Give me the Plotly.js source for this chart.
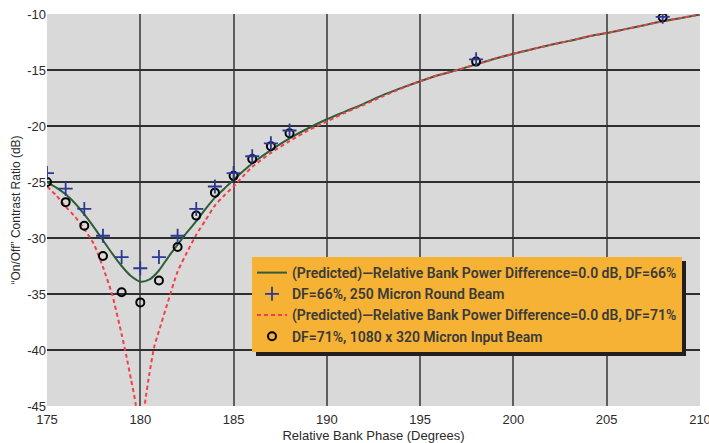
<!DOCTYPE html>
<html>
<head>
<meta charset="utf-8">
<script src="https://cdn.plot.ly/plotly-3.0.1.min.js"></script>
<style>html,body{margin:0;padding:0;background:#fff;}#chart{width:709px;height:443px;}</style>
</head>
<body>
<div id="chart"></div>
<script>
// Predicted curve, DF=66%
var predPhase66 = [175,175.5,176,176.5,177,177.5,178,178.5,179,179.5,180,180.5,181,181.5,182,182.5,183,183.5,184,184.5,185,186,187,188,189,190,191,192,193,194,195,196,197,198,199,200,201,202,203,204,205,206,207,208,209,210];
var predRatio66 = [-25.0,-25.5,-26.1,-26.9,-27.9,-29.0,-30.2,-31.4,-32.5,-33.4,-33.9,-33.7,-32.9,-31.7,-30.6,-29.5,-28.5,-27.4,-26.4,-25.6,-24.8,-23.35,-22.15,-21.1,-20.2,-19.4,-18.7,-18.0,-17.25,-16.6,-16.0,-15.45,-15.0,-14.5,-14.0,-13.55,-13.15,-12.75,-12.4,-12.0,-11.7,-11.35,-11.0,-10.65,-10.35,-10.05];

// Predicted curve, DF=71%
var predPhase71 = [175,175.5,176,176.5,177,177.5,178,178.5,179,179.25,179.5,179.75,180,180.25,180.5,180.75,181,181.5,182,182.5,183,183.5,184,184.5,185,185.5,186,187,188,189,190,191,192,193,194,195,196,197,198,199,200,201,202,203,204,205,206,207,208,209,210];
var predRatio71 = [-25.4,-26.2,-27.2,-28.1,-29.2,-30.5,-32.6,-35.1,-38.6,-40.5,-42.6,-44.8,-50.0,-44.8,-42.0,-39.7,-38.3,-35.6,-33.0,-31.3,-29.7,-28.4,-27.1,-26.2,-25.4,-24.5,-23.65,-22.4,-21.35,-20.4,-19.6,-18.8,-18.1,-17.35,-16.65,-16.0,-15.45,-15.0,-14.5,-14.0,-13.55,-13.15,-12.75,-12.4,-12.0,-11.7,-11.35,-11.0,-10.65,-10.35,-10.05];

// Measured, DF=66%, 250 micron round beam
var measPhase66 = [175,176,177,178,179,180,181,182,183,184,185,186,187,188,198,208];
var measRatio66 = [-24.2,-25.6,-27.4,-29.8,-31.7,-32.7,-31.7,-29.8,-27.4,-25.4,-24.2,-22.7,-21.55,-20.4,-14.05,-10.25];

// Measured, DF=71%, 1080 x 320 micron input beam
var measPhase71 = [175,176,177,178,179,180,181,182,183,184,185,186,187,188,198,208];
var measRatio71 = [-25.0,-26.8,-28.9,-31.6,-34.85,-35.75,-33.8,-30.8,-28.0,-25.95,-24.45,-22.95,-21.8,-20.65,-14.25,-10.3];

var xTicks = [175,180,185,190,195,200,205,210];
var yTicks = [-45,-40,-35,-30,-25,-20,-15,-10];

var legendFont = {family: 'Roboto, "Noto Sans", sans-serif', size: 14, color: '#3a3a3a', weight: 600};

var traces = [
  {x: predPhase66, y: predRatio66, mode: 'lines', line: {color: '#2c5e37', width: 2, shape: 'spline', smoothing: 0.8},
   name: '(Predicted)\u2014Relative Bank Power Difference=0.0 dB, DF=66%', legendrank: 1, legendgroup: 'a'},
  {x: predPhase71, y: predRatio71, mode: 'lines', line: {color: '#f0414b', width: 2, dash: '4px,3px', shape: 'spline', smoothing: 0.6},
   name: '(Predicted)\u2014Relative Bank Power Difference=0.0 dB, DF=71%', legendrank: 3, legendgroup: 'c'},
  {x: measPhase71, y: measRatio71, mode: 'markers', marker: {symbol: 'circle-open', size: 8, color: '#000', line: {width: 2, color: '#000'}},
   name: 'DF=71%, 1080 x 320 Micron Input Beam', legendrank: 4, legendgroup: 'd'},
  {x: measPhase66, y: measRatio66, mode: 'markers', marker: {symbol: 'cross-thin-open', size: 10, color: '#2b3990', line: {width: 1.8, color: '#2b3990'}},
   name: 'DF=66%, 250 Micron Round Beam', legendrank: 2, legendgroup: 'b'}
];

var L = 47, R = 700, T = 14, B = 406;
function px(x){return (x - L)/(R - L);}
function py(y){return (B - y)/(B - T);}

var layout = {
  width: 709, height: 443,
  margin: {l: 47, r: 9, t: 14, b: 37},
  paper_bgcolor: '#ffffff',
  plot_bgcolor: '#d9d9d9',
  showlegend: true,
  font: {family: '"Liberation Sans", Arial, sans-serif', color: '#222'},
  xaxis: {
    range: [175, 210], tickvals: xTicks, ticktext: xTicks.map(String),
    showgrid: true, gridcolor: '#5e5e5e', gridwidth: 2, zeroline: false, showline: false,
    ticks: '', ticklabelstandoff: 4, ticklabeloverflow: 'allow',
    tickfont: {family: '"Liberation Sans", Arial, sans-serif', size: 13, color: '#2a2a2a'},
    title: {text: 'Relative Bank Phase (Degrees)', font: {family: '"Liberation Sans Narrow", "Liberation Sans", sans-serif', size: 13, color: '#2a2a2a'}, standoff: 4}
  },
  yaxis: {
    range: [-45, -10], tickvals: yTicks, ticktext: yTicks.map(String),
    showgrid: true, gridcolor: '#2e2e2e', gridwidth: 1.5, zeroline: false, showline: false,
    ticks: '', tickfont: {family: '"Liberation Sans", Arial, sans-serif', size: 13, color: '#2a2a2a'},
    title: {text: '\u201COn/Off\u201D Contrast Ratio (dB)', font: {family: '"Liberation Sans", Arial, sans-serif', size: 12, color: '#2a2a2a'}, standoff: 4}
  },
  legend: {
    x: px(252), y: py(257), xanchor: 'left', yanchor: 'top',
    bgcolor: '#f5b234', borderwidth: 0, font: legendFont,
    traceorder: 'grouped', itemwidth: 30, tracegroupgap: 0
  }
};

Plotly.newPlot('chart', traces, layout, {displayModeBar: false, staticPlot: true}).then(function(gd){
  // drop shadow behind the legend box (styling only)
  var bg = gd.querySelector('.legend .bg');
  var rect = bg.getBoundingClientRect();
  var host = gd.getBoundingClientRect();
  var x0 = rect.left - host.left + 4, x1 = rect.right - host.left + 4;
  var y0 = rect.top - host.top + 4, y1 = rect.bottom - host.top + 4;
  return Plotly.relayout(gd, {shapes: [
    {type: 'rect', xref: 'paper', yref: 'paper', x0: px(x0), x1: px(x1), y0: py(y1), y1: py(y0),
     fillcolor: '#231f20', line: {width: 0}, layer: 'above'}
  ]});
});
</script>
</body>
</html>
